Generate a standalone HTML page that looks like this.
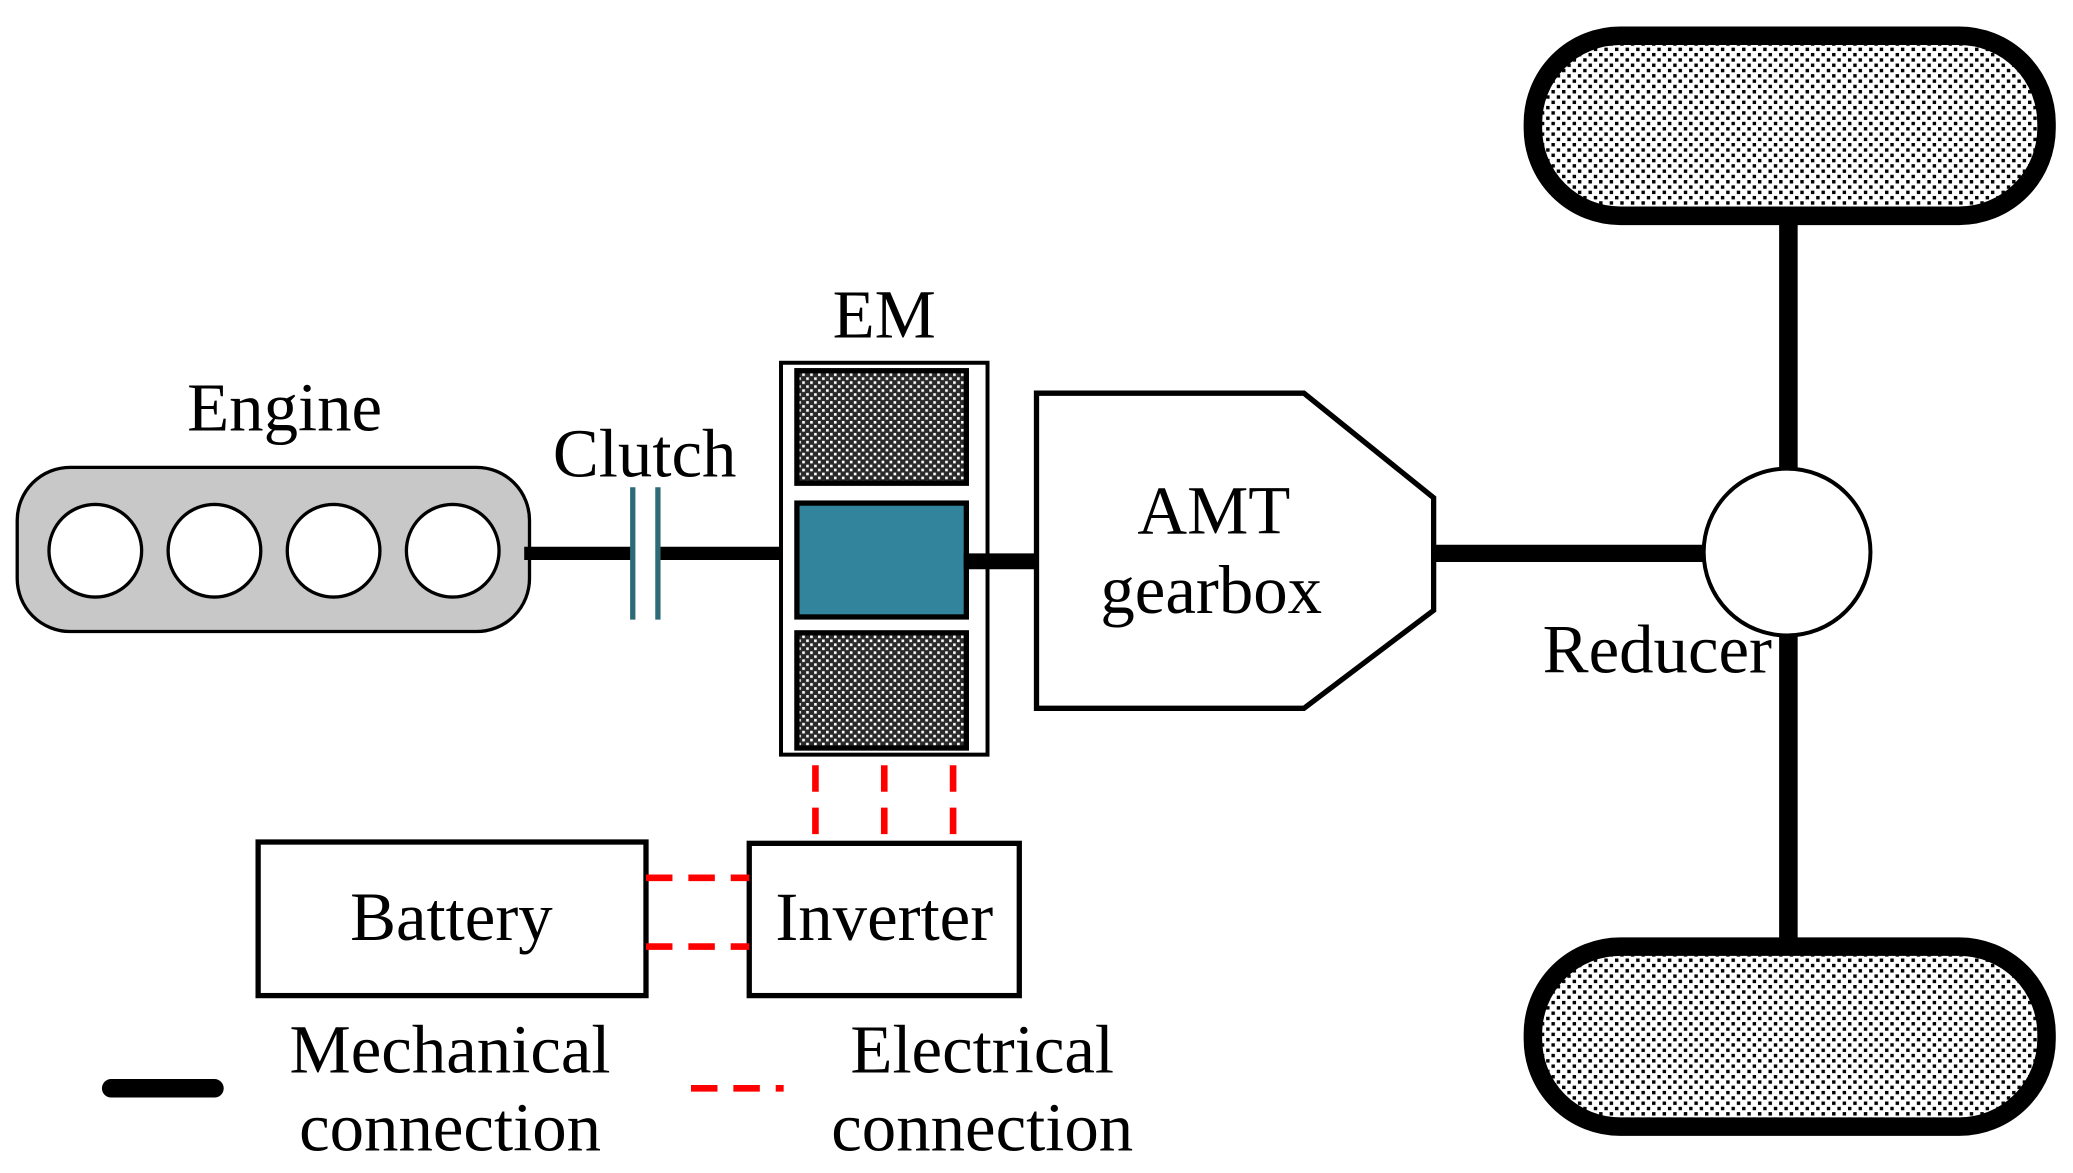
<!DOCTYPE html>
<html><head><meta charset="utf-8"><style>html,body{margin:0;padding:0;background:#fff}svg{display:block}</style></head>
<body>
<svg width="2073" height="1173" viewBox="0 0 1566 886" preserveAspectRatio="none" xmlns="http://www.w3.org/2000/svg" font-family="'Liberation Serif', serif" font-size="52">
<defs>
<pattern id="dots" width="8" height="8" patternUnits="userSpaceOnUse"><rect width="8" height="8" fill="#fff"/><rect x="0" y="0" width="2.6" height="2.6" fill="#000"/><rect x="4" y="4" width="2.6" height="2.6" fill="#000"/></pattern>
<pattern id="check" width="6" height="6" patternUnits="userSpaceOnUse"><rect width="6" height="6" fill="#2a2a2a"/><rect x="0" y="0" width="2" height="2" fill="#fff"/><rect x="3" y="3" width="2" height="2" fill="#fff"/></pattern>
</defs>
<rect width="1566" height="886" fill="#fff"/>
<rect x="13" y="353" width="387" height="124" rx="40" fill="#c8c8c8" stroke="#000" stroke-width="2.5"/>
<g fill="#fff" stroke="#000" stroke-width="2.5">
<circle cx="72" cy="416" r="35"/><circle cx="162" cy="416" r="35"/><circle cx="252" cy="416" r="35"/><circle cx="342" cy="416" r="35"/>
</g>
<line x1="396" y1="418" x2="478" y2="418" stroke="#000" stroke-width="10"/>
<line x1="497" y1="418" x2="604" y2="418" stroke="#000" stroke-width="10"/>
<line x1="478" y1="368" x2="478" y2="468" stroke="#2e6b78" stroke-width="4"/>
<line x1="497" y1="368" x2="497" y2="468" stroke="#2e6b78" stroke-width="4"/>
<rect x="590" y="274" width="156" height="296" fill="#fff" stroke="#000" stroke-width="3"/>
<rect x="602" y="280" width="128" height="85" fill="url(#check)" stroke="#000" stroke-width="4"/>
<rect x="602" y="380" width="128" height="86" fill="#31849b" stroke="#000" stroke-width="4"/>
<rect x="602" y="478" width="128" height="87" fill="url(#check)" stroke="#000" stroke-width="4"/>
<line x1="728" y1="424" x2="784" y2="424" stroke="#000" stroke-width="12"/>
<polygon points="783,297 985,297 1083,376 1083,461 985,535 783,535" fill="#fff" stroke="#000" stroke-width="4"/>
<line x1="1083" y1="418" x2="1292" y2="418" stroke="#000" stroke-width="13"/>
<line x1="1351" y1="160" x2="1351" y2="362" stroke="#000" stroke-width="14"/>
<line x1="1351" y1="472" x2="1351" y2="718" stroke="#000" stroke-width="14"/>
<circle cx="1350" cy="417" r="63" fill="#fff" stroke="#000" stroke-width="3"/>
<rect x="1158" y="27" width="388" height="136" rx="66" fill="url(#dots)" stroke="#000" stroke-width="14"/>
<rect x="1158" y="715" width="388" height="136" rx="66" fill="url(#dots)" stroke="#000" stroke-width="14"/>
<rect x="195" y="636" width="293" height="116" fill="#fff" stroke="#000" stroke-width="4"/>
<rect x="566" y="637" width="204" height="115" fill="#fff" stroke="#000" stroke-width="4"/>
<g stroke="#ff0000" stroke-width="5" stroke-dasharray="20,12">
<line x1="616" y1="578" x2="616" y2="637"/><line x1="668" y1="578" x2="668" y2="637"/><line x1="720" y1="578" x2="720" y2="637"/>
<line x1="488" y1="663" x2="566" y2="663"/><line x1="488" y1="715" x2="566" y2="715"/>
<line x1="522" y1="822" x2="592" y2="822"/>
</g>
<line x1="84" y1="822" x2="162" y2="822" stroke="#000" stroke-width="14" stroke-linecap="round"/>
<g text-anchor="middle" fill="#000">
<text x="215" y="325">Engine</text>
<text x="487" y="360">Clutch</text>
<text x="668" y="255">EM</text>
<text x="917" y="403">AMT</text>
<text x="915" y="463">gearbox</text>
<text x="1252" y="508">Reducer</text>
<text x="341" y="710">Battery</text>
<text x="668" y="710">Inverter</text>
<text x="340" y="810">Mechanical</text>
<text x="340" y="869">connection</text>
<text x="742" y="810">Electrical</text>
<text x="742" y="869">connection</text>
</g>
</svg>
</body></html>
